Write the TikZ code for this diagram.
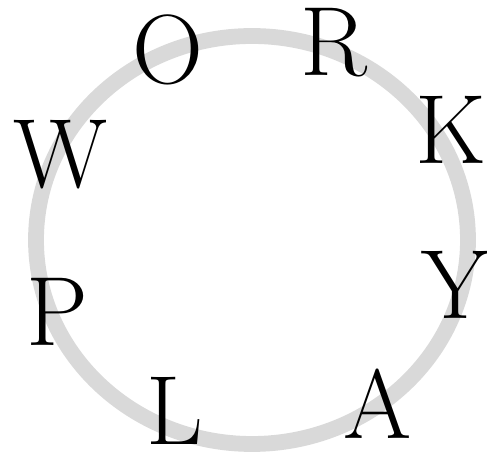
\documentclass[tikz,border=0pt]{standalone}
\usepackage{tikz}
\usetikzlibrary{positioning}

\begin{document}
\begin{tikzpicture}[x=0.02cm, y=0.02cm,
  ltr/.style={inner sep=0pt, font=\fontsize{56}{60}\selectfont}]
\useasboundingbox (0,0) rectangle (487,453);
\draw[line width=9pt, color=black!15] (252,213) ellipse [x radius=216, y radius=204];
\node[ltr] (W) at (60,298)  {W};
\node[ltr] (O) at (168,403) {O};
\node[ltr] (R) at (334,410) {R};
\node[ltr] (K) at (451,323) {K};
\node[ltr] (Y) at (456,168) {Y};
\node[ltr] (A) at (378,49)  {A};
\node[ltr] (L) at (175,42)  {L};
\node[ltr] (P) at (57,141)  {P};
\end{tikzpicture}
\end{document}
